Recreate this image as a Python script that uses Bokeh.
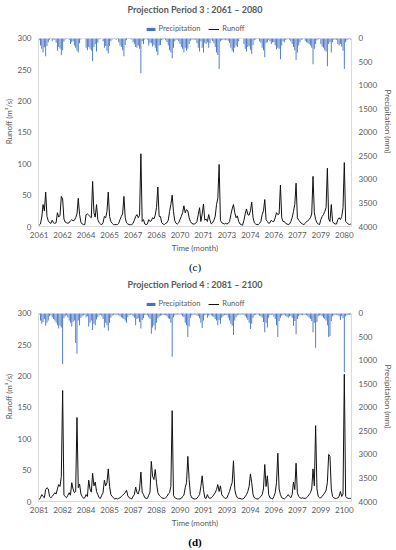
from bokeh.plotting import figure
from bokeh.models import Range1d, LinearAxis, FixedTicker, Legend, LegendItem, Title
from bokeh.layouts import column
from bokeh.embed import file_html
from bokeh.resources import INLINE

# ---------------- data ----------------
titles = ["Projection Period 3 : 2061 \u2013 2080", "Projection Period 4 : 2081 \u2013 2100"]
panel_tags = ["(c)", "(d)"]
tick_labels_p3 = ["2061", "2062", "2064", "2065", "2067", "2068", "2070",
                  "2071", "2073", "2074", "2076", "2077", "2079", "2080"]
tick_labels_p4 = ["2081", "2082", "2084", "2085", "2087", "2088", "2090",
                  "2091", "2093", "2094", "2096", "2097", "2099", "2100"]
runoff_ticks = [0, 50, 100, 150, 200, 250, 300]
precip_ticks = [0, 500, 1000, 1500, 2000, 2500, 3000, 3500, 4000]

# monthly runoff (m3/s), 2061-2080
runoff_p3 = [
    2, 4, 15, 35, 25, 55, 16, 9, 6, 5, 10, 6,
    5, 6, 22, 15, 18, 48, 44, 12, 7, 6, 5, 6,
    9, 11, 9, 10, 14, 20, 45, 19, 7, 4, 3, 3,
    19, 20, 18, 16, 14, 72, 22, 15, 35, 11, 6, 4,
    3, 6, 16, 14, 24, 55, 16, 8, 5, 3, 3, 3,
    3, 5, 11, 16, 20, 48, 14, 6, 4, 3, 3, 3,
    5, 10, 16, 19, 14, 18, 116, 8, 11, 4, 3, 4,
    11, 8, 9, 14, 12, 18, 30, 63, 16, 16, 6, 4,
    3, 5, 6, 10, 24, 35, 50, 24, 9, 5, 4, 6,
    11, 16, 22, 33, 22, 27, 25, 14, 8, 5, 4, 4,
    5, 8, 19, 30, 8, 20, 36, 10, 12, 8, 19, 10,
    4, 6, 10, 16, 35, 45, 99, 10, 6, 5, 4, 5,
    4, 5, 8, 19, 28, 35, 22, 14, 17, 8, 4, 3,
    2, 10, 20, 28, 19, 18, 25, 39, 14, 6, 4, 3,
    3, 5, 8, 19, 25, 43, 11, 8, 5, 6, 10, 8,
    8, 14, 22, 19, 20, 66, 14, 8, 8, 5, 4, 3,
    4, 8, 14, 24, 35, 69, 14, 10, 8, 5, 4, 3,
    5, 8, 9, 11, 14, 20, 80, 22, 11, 6, 4, 3,
    11, 16, 19, 24, 30, 93, 12, 8, 35, 8, 5, 4,
    4, 11, 14, 11, 16, 30, 102, 8, 6, 4, 3, 4,
]
# monthly precipitation (mm), 2061-2080
precip_p3 = [
    40, 150, 220, 300, 190, 380, 160, 80, 30, 10, 60, 20,
    30, 90, 260, 180, 220, 360, 250, 70, 20, 10, 5, 30,
    120, 80, 60, 150, 200, 260, 300, 100, 20, 5, 0, 10,
    200, 250, 180, 220, 260, 480, 180, 120, 280, 90, 20, 10,
    0, 60, 200, 160, 260, 320, 160, 60, 20, 5, 10, 30,
    10, 80, 150, 180, 250, 380, 140, 40, 10, 5, 10, 20,
    80, 120, 180, 200, 150, 220, 740, 60, 120, 30, 10, 30,
    150, 90, 100, 170, 140, 200, 280, 360, 150, 140, 40, 20,
    10, 40, 80, 150, 250, 300, 420, 200, 60, 30, 20, 60,
    120, 180, 220, 300, 200, 260, 220, 120, 50, 20, 30, 20,
    30, 100, 200, 280, 60, 200, 300, 90, 120, 80, 200, 100,
    20, 60, 100, 180, 300, 350, 650, 60, 40, 30, 20, 40,
    30, 50, 90, 200, 260, 300, 200, 150, 180, 60, 10, 5,
    5, 120, 220, 280, 180, 160, 240, 330, 140, 40, 20, 10,
    10, 60, 90, 200, 250, 400, 100, 80, 30, 60, 120, 80,
    80, 150, 230, 200, 220, 440, 150, 60, 80, 30, 20, 10,
    30, 60, 120, 180, 250, 460, 300, 150, 80, 30, 20, 10,
    50, 80, 90, 120, 150, 200, 550, 220, 120, 40, 20, 10,
    120, 170, 200, 250, 280, 590, 120, 80, 300, 80, 30, 20,
    30, 120, 150, 120, 170, 260, 650, 80, 40, 20, 10, 30,
]
# monthly runoff (m3/s), 2081-2100
runoff_p4 = [
    3, 6, 11, 8, 6, 19, 22, 20, 8, 6, 8, 11,
    14, 12, 20, 27, 24, 40, 177, 10, 8, 6, 10, 14,
    10, 30, 20, 14, 16, 134, 22, 28, 12, 8, 5, 6,
    11, 8, 34, 20, 15, 45, 25, 31, 16, 11, 6, 5,
    10, 14, 34, 25, 30, 52, 24, 11, 8, 6, 4, 5,
    4, 5, 6, 8, 10, 12, 14, 18, 9, 6, 5, 4,
    8, 11, 23, 14, 12, 20, 47, 15, 11, 6, 5, 5,
    10, 15, 64, 40, 35, 51, 30, 14, 10, 8, 6, 5,
    5, 6, 8, 12, 14, 24, 145, 10, 6, 5, 4, 4,
    4, 5, 8, 10, 22, 30, 72, 35, 11, 6, 5, 4,
    4, 5, 8, 11, 24, 41, 19, 6, 5, 11, 6, 5,
    6, 8, 11, 14, 19, 27, 16, 25, 11, 8, 6, 5,
    6, 11, 16, 24, 30, 65, 19, 10, 6, 5, 5, 4,
    4, 5, 8, 11, 16, 24, 44, 30, 11, 6, 5, 4,
    4, 6, 8, 11, 20, 59, 24, 41, 11, 6, 5, 4,
    8, 14, 30, 77, 20, 11, 6, 5, 4, 6, 8, 11,
    8, 6, 11, 31, 19, 61, 14, 8, 6, 5, 6, 5,
    5, 6, 8, 11, 14, 20, 52, 25, 121, 20, 8, 6,
    6, 8, 11, 14, 18, 30, 75, 72, 20, 8, 6, 5,
    5, 6, 8, 16, 8, 12, 203, 8, 6, 5, 5, 5,
]
# monthly precipitation (mm), 2081-2100
precip_p4 = [
    20, 150, 220, 180, 120, 260, 200, 150, 60, 40, 80, 120,
    150, 200, 250, 320, 260, 300, 1080, 100, 60, 40, 80, 150,
    200, 280, 180, 150, 630, 860, 150, 250, 90, 60, 40, 30,
    80, 60, 280, 200, 150, 350, 220, 250, 130, 80, 40, 30,
    60, 120, 300, 200, 250, 370, 200, 90, 50, 30, 20, 40,
    20, 40, 60, 80, 100, 120, 150, 200, 80, 40, 30, 20,
    60, 90, 250, 120, 100, 180, 320, 140, 100, 40, 30, 40,
    80, 120, 430, 300, 250, 360, 200, 100, 70, 50, 40, 30,
    30, 40, 60, 100, 120, 200, 920, 80, 40, 30, 20, 20,
    20, 30, 60, 80, 200, 250, 500, 280, 90, 40, 30, 20,
    20, 40, 60, 100, 200, 310, 150, 40, 30, 90, 50, 30,
    40, 60, 80, 120, 150, 250, 140, 220, 90, 60, 40, 30,
    40, 90, 150, 220, 260, 460, 150, 80, 40, 30, 30, 20,
    20, 30, 60, 90, 140, 200, 330, 220, 90, 40, 30, 20,
    20, 50, 60, 90, 180, 400, 200, 300, 90, 40, 30, 20,
    70, 120, 250, 500, 160, 90, 50, 40, 30, 50, 70, 90,
    60, 50, 90, 260, 160, 440, 120, 60, 40, 30, 40, 30,
    30, 40, 60, 90, 120, 160, 400, 200, 730, 180, 60, 40,
    40, 60, 90, 120, 150, 250, 500, 480, 160, 60, 40, 30,
    30, 40, 60, 140, 60, 100, 1250, 60, 40, 30, 30, 30,
]

# ---------------- style ----------------
FONT = "Lato"
GREY = "#595959"
AXIS_LINE = "#D9D9D9"
BAR_COLOR = "#4472C4"
TICK_STEP = 18          # months between category labels
RUNOFF_MAX = 300
PRECIP_MAX = 4000
HEADROOM = 35           # room for legend inside frame (runoff units)


def style_axis(ax, label_standoff, title_standoff):
    ax.axis_line_color = AXIS_LINE
    ax.major_tick_line_color = None
    ax.minor_tick_line_color = None
    ax.major_tick_out = 0
    ax.major_tick_in = 0
    ax.minor_tick_out = 0
    ax.minor_tick_in = 0
    ax.major_label_text_font = FONT
    ax.major_label_text_font_size = "8px"
    ax.major_label_text_color = GREY
    ax.axis_label_text_font = FONT
    ax.axis_label_text_font_size = "8px"
    ax.axis_label_text_color = GREY
    ax.axis_label_text_font_style = "normal"
    ax.major_label_standoff = label_standoff
    ax.axis_label_standoff = title_standoff


def make_panel(title, tag, runoff, precip, tick_labels, tag_style):
    n = len(runoff)
    months = list(range(n))
    top = RUNOFF_MAX + HEADROOM
    p = figure(width=396, height=275, output_backend="svg", toolbar_location=None,
               x_range=Range1d(-0.5, n - 0.5), y_range=Range1d(0, top),
               min_border_left=37, min_border_right=38,
               min_border_top=15, min_border_bottom=48, title=title)
    p.extra_y_ranges = {"precip": Range1d(start=PRECIP_MAX,
                                          end=-PRECIP_MAX * HEADROOM / RUNOFF_MAX)}
    bars = p.vbar(x=months, bottom=0, top=precip, width=0.7, y_range_name="precip",
                  fill_color=BAR_COLOR, line_color=None)
    ln = p.line(months, runoff, line_color="#111111", line_width=1)

    p.grid.visible = False
    p.outline_line_color = None

    p.title.align = "center"
    p.title.text_font = FONT
    p.title.text_font_size = "9px"
    p.title.text_font_style = "bold"
    p.title.text_color = GREY
    p.title.standoff = 3

    xa = p.xaxis[0]
    ticks = [k * TICK_STEP for k in range(len(tick_labels))]
    xa.ticker = FixedTicker(ticks=ticks)
    xa.major_label_overrides = {t: lab for t, lab in zip(ticks, tick_labels)}
    xa.axis_label = "Time (month)"
    style_axis(xa, 5, 2)

    ya = p.yaxis[0]
    ya.ticker = FixedTicker(ticks=runoff_ticks)
    ya.bounds = (0, RUNOFF_MAX)
    ya.axis_label = "Runoff (m\u00b3/s)"
    style_axis(ya, 7, 1)

    ra = LinearAxis(y_range_name="precip", ticker=FixedTicker(ticks=precip_ticks),
                    axis_label="Precipitation (mm)")
    ra.bounds = (0, PRECIP_MAX)
    style_axis(ra, 7, 3)
    p.add_layout(ra, "right")

    legend = Legend(items=[LegendItem(label="Precipitation", renderers=[bars]),
                           LegendItem(label="Runoff", renderers=[ln])],
                    orientation="horizontal", location="top_center",
                    label_text_font=FONT, label_text_font_size="7.5px",
                    label_text_color=GREY, glyph_width=11, glyph_height=4,
                    label_height=8, label_standoff=3, spacing=8, padding=0,
                    margin=8, border_line_color=None, background_fill_alpha=0)
    p.add_layout(legend, "center")

    p.add_layout(Title(text=tag, align="center", text_font="Liberation Serif",
                       text_font_size="11px", text_font_style=tag_style,
                       text_color="#000000", standoff=6), "below")
    return p


p1 = make_panel(titles[0], panel_tags[0], runoff_p3, precip_p3, tick_labels_p3, "normal")
p2 = make_panel(titles[1], panel_tags[1], runoff_p4, precip_p4, tick_labels_p4, "bold")

layout = column(p1, p2)
open("out.html", "w").write(file_html(layout, INLINE))
